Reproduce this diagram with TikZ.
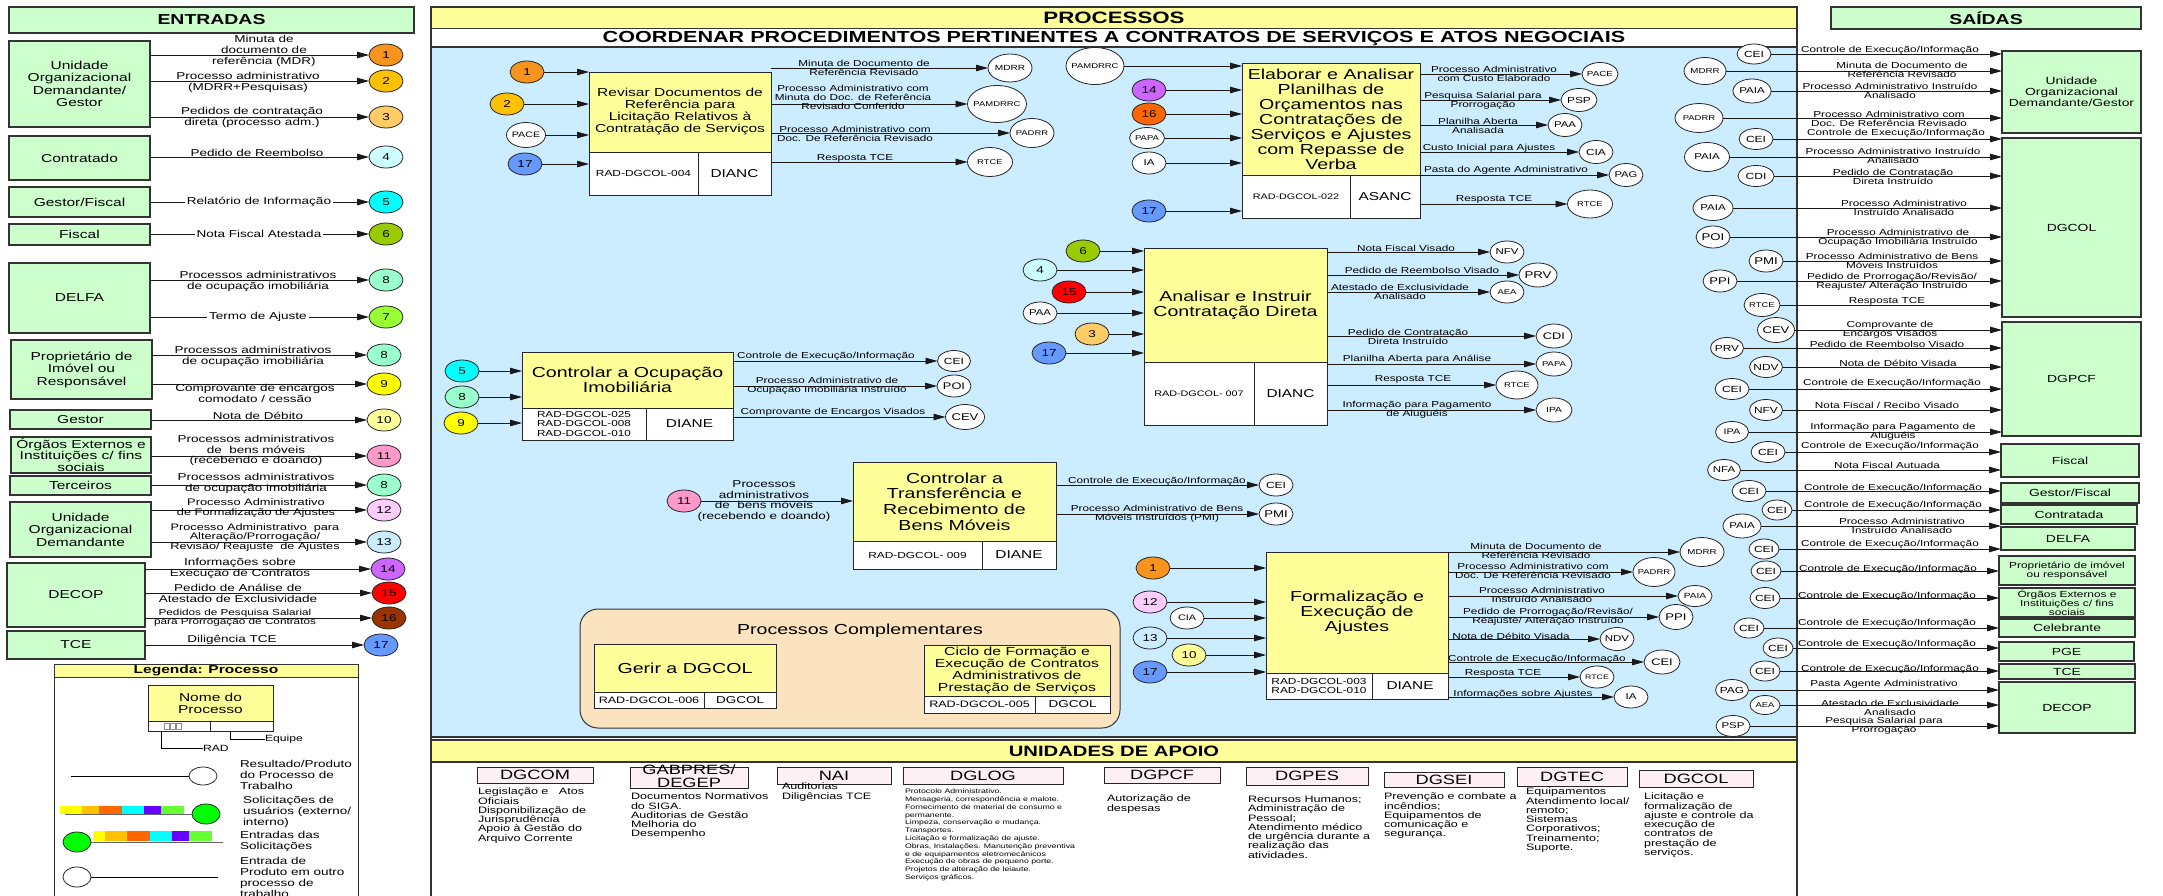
\documentclass[tikz,border=0pt]{standalone}
\usepackage{fontspec}
\setmainfont{Liberation Sans}[FakeStretch=1.35]
\usetikzlibrary{arrows.meta,shapes.geometric}
\definecolor{entgreen}{HTML}{CCFFCC}
\definecolor{procyel}{HTML}{FFFF99}
\definecolor{areablue}{HTML}{CCECFF}
\definecolor{unitpink}{HTML}{FFF0F5}
\definecolor{complbeige}{HTML}{FBE3BF}
\definecolor{cA}{HTML}{F7941D}
\definecolor{cB}{HTML}{FFC000}
\definecolor{cC}{HTML}{FFCC66}
\definecolor{cD}{HTML}{CCFFFF}
\definecolor{cE}{HTML}{00FFFF}
\definecolor{cF}{HTML}{99CC00}
\definecolor{cG}{HTML}{99FF33}
\definecolor{cH}{HTML}{99FFCC}
\definecolor{cI}{HTML}{FFFF00}
\definecolor{cJ}{HTML}{FFFF99}
\definecolor{cK}{HTML}{FF99CC}
\definecolor{cL}{HTML}{FFCCFF}
\definecolor{cM}{HTML}{CCECFF}
\definecolor{cN}{HTML}{CC66FF}
\definecolor{cO}{HTML}{FF0000}
\definecolor{cP}{HTML}{993300}
\definecolor{cPb}{HTML}{FF6600}
\definecolor{cQ}{HTML}{6699FF}
\definecolor{lgGreen}{HTML}{00FF00}
\definecolor{barPurple}{HTML}{6600FF}
\definecolor{barGreen}{HTML}{66FF33}
\definecolor{lineGray}{HTML}{333333}
\newcommand\fsz[2]{\fontsize{#1}{#2}\selectfont}
\newcommand\mb[1]{\makebox[0pt]{#1}}
\tikzset{
 every node/.style={inner sep=0pt, outer sep=0pt},
 entbox/.style={draw=lineGray, line width=1.3pt, fill=entgreen, align=center, anchor=north west, font=\fsz{11.5}{12.5}},
 sbox/.style={draw=lineGray, line width=1.3pt, fill=entgreen, align=center, anchor=north west, font=\fsz{10.3}{11}},
 circ/.style={ellipse, draw=black!85, line width=0.8pt, minimum width=34pt, minimum height=22pt, font=\fsz{10}{10}},
 lbl/.style={align=center, font=\fsz{8.7}{9}},
 elbl/.style={align=center, font=\fsz{10}{11}},
 arr/.style={line width=0.8pt, draw=black!90, -{Triangle[length=12pt,width=6.5pt]}},
 pyel/.style={draw=black!85, line width=0.9pt, fill=procyel, align=center, anchor=north west},
 pwh/.style={draw=black!85, line width=0.9pt, fill=white, align=center, anchor=north west},
 unit/.style={draw=black!85, line width=1pt, fill=unitpink, anchor=north west, font=\fsz{13.5}{13.5}},
 udesc/.style={align=left, anchor=north west, font=\fsz{9.3}{9.3}},
}
\newcommand\ccirc[4]{\node[circ, fill=#3] (#1) at (#2) {\mb{#4}};}
\newcommand\rcirc[6]{\node[circ, fill=white, minimum width=#3, minimum height=#4, font=\fsz{#5}{#5}] (#1) at (#2) {\mb{#6}};}
\newcommand\procbox[7]{\node[pyel, minimum width={#4-#2}, minimum height={#5-#3}, #6] (#1) at (#2,#3) {#7};}
\newcommand\procfoot[9]{%
 \node[pwh, minimum width={#3-#2}, minimum height={#6-#5}, #7] (#1r) at (#2,#5) {#8};
 \node[pwh, minimum width={#4-#3}, minimum height={#6-#5}, font=\fsz{11.4}{11.4}] (#1t) at (#3,#5) {#9};}
\begin{document}
\begin{tikzpicture}[x=1pt,y=-1pt]
\useasboundingbox (0,0) rectangle (2163,896);
\fill[white] (0,0) rectangle (2163,896);

% ================= ENTRADAS =================
\node[entbox, minimum width=405, minimum height=26, font=\bfseries\fsz{14.4}{15}] (hent) at (9,7) {ENTRADAS};
\node[entbox, minimum width=141, minimum height=86] (eUOD) at (9,41) {Unidade\\Organizacional\\Demandante/\\Gestor};
\node[entbox, minimum width=141, minimum height=44] (eCon) at (9,136) {Contratado};
\node[entbox, minimum width=141, minimum height=30] (eGF) at (9,187) {Gestor/Fiscal};
\node[entbox, minimum width=141, minimum height=21] (eFis) at (9,224) {Fiscal};
\node[entbox, minimum width=141, minimum height=70] (eDel) at (9,263) {DELFA};
\node[entbox, minimum width=141, minimum height=59] (ePro) at (11,340) {Proprietário de\\Imóvel ou\\Responsável};
\node[entbox, minimum width=141, minimum height=19] (eGes) at (10,410) {Gestor};
\node[entbox, minimum width=140, minimum height=36, font=\fsz{11.5}{11.8}] (eOrg) at (11,437) {Órgãos Externos e\\Instituições c/ fins\\sociais};
\node[entbox, minimum width=141, minimum height=19] (eTer) at (10,476) {Terceiros};
\node[entbox, minimum width=141, minimum height=55] (eUO2) at (10,502) {Unidade\\Organizacional\\Demandante};
\node[entbox, minimum width=138, minimum height=64] (eDec) at (7,563) {DECOP};
\node[entbox, minimum width=138, minimum height=28] (eTce) at (7,631) {TCE};

\ccirc{a1}{386,55}{cA}{1}
\ccirc{a2}{386,81}{cB}{2}
\ccirc{a3}{386,117}{cC}{3}
\ccirc{a4}{386,157}{cD}{4}
\ccirc{a5}{386,202}{cE}{5}
\ccirc{a6}{386,234}{cF}{6}
\ccirc{a8a}{386,280}{cH}{8}
\ccirc{a7}{386,317}{cG}{7}
\ccirc{a8b}{384,355}{cH}{8}
\ccirc{a9}{384,384}{cI}{9}
\ccirc{a10}{384,420}{cJ}{10}
\ccirc{a11}{384,456}{cK}{11}
\ccirc{a8c}{384,485}{cH}{8}
\ccirc{a12}{384,510}{cL}{12}
\ccirc{a13}{384,542}{cM}{13}
\ccirc{a14}{388,569}{cN}{14}
\ccirc{a15}{389,593}{cO}{15}
\ccirc{a16}{389,618}{cP}{16}
\ccirc{a17}{381,645}{cQ}{17}

\draw[arr] (eUOD.east |- a1) -- (a1);
\draw[arr] (eUOD.east |- a2) -- (a2);
\draw[arr] (eUOD.east |- a3) -- (a3);
\draw[arr] (eCon.east |- a4) -- (a4);
\draw[arr] (eGF.east |- a5) -- (a5);
\draw[arr] (eFis.east |- a6) -- (a6);
\draw[arr] (eDel.east |- a8a) -- (a8a);
\draw[arr] (eDel.east |- a7) -- (a7);
\draw[arr] (ePro.east |- a8b) -- (a8b);
\draw[arr] (ePro.east |- a9) -- (a9);
\draw[arr] (eGes.east |- a10) -- (a10);
\draw[arr] (eOrg.east |- a11) -- (a11);
\draw[arr] (eTer.east |- a8c) -- (a8c);
\draw[arr] (eUO2.east |- a12) -- (a12);
\draw[arr] (eUO2.east |- a13) -- (a13);
\draw[arr] (eDec.east |- a14) -- (a14);
\draw[arr] (eDec.east |- a15) -- (a15);
\draw[arr] (eDec.east |- a16) -- (a16);
\draw[arr] (eTce.east |- a17) -- (a17);

\node[elbl] (la1) at (264,50.5) {Minuta de\\documento de\\referência (MDR)};
\node[elbl] (la2) at (248,82.5) {Processo administrativo\\(MDRR+Pesquisas)};
\node[elbl] (la3) at (252,117.5) {Pedidos de contratação\\direta (processo adm.)};
\node[elbl] (la4) at (257,153) {Pedido de Reembolso};
\node[elbl, fill=white, inner xsep=2pt] (la5) at (259,202) {Relatório de Informação};
\node[elbl, fill=white, inner xsep=2pt] (la6) at (259,234) {Nota Fiscal Atestada};
\node[elbl] (la8a) at (258,281) {Processos administrativos\\de ocupação imobiliária};
\node[elbl, fill=white, inner xsep=2pt] (la7) at (258,317) {Termo de Ajuste};
\node[elbl] (la8b) at (253,356) {Processos administrativos\\de ocupação imobiliária};
\node[elbl] (la9) at (255,393.5) {Comprovante de encargos\\comodato / cessão};
\node[elbl] (la10) at (258,416) {Nota de Débito};
\node[elbl, font=\fsz{10}{10.5}] (la11) at (256,450.5) {Processos administrativos\\de \ bens móveis\\(recebendo e doando)};
\node[elbl] (la8c) at (256,483.5) {Processos administrativos\\de ocupação imobiliária};
\node[elbl, font=\fsz{9.5}{10}] (la12) at (256,508) {Processo Administrativo\\de Formalização de Ajustes};
\node[elbl, font=\fsz{9.4}{9.6}] (la13) at (255,537.5) {Processo Administrativo \ para\\Alteração/Prorrogação/\\Revisão/ Reajuste \ de Ajustes};
\node[elbl] (la14) at (240,568.5) {Informações sobre\\Execução de Contratos};
\node[elbl] (la15) at (238,593.5) {Pedido de Análise de\\Atestado de Exclusividade};
\node[elbl, font=\fsz{8.7}{9}] (la16) at (235,617.5) {Pedidos de Pesquisa Salarial\\para Prorrogação de Contratos};
\node[elbl] (la17) at (232,640) {Diligência TCE};

% ================= LEGENDA =================
\node[draw=lineGray, line width=1pt, fill=white, minimum width=304, minimum height=240, anchor=north west] (leg) at (54,664) {};
\node[draw=lineGray, line width=1pt, fill=procyel, minimum width=304, minimum height=13, anchor=north west, font=\bfseries\fsz{11.5}{11.5}] (legH) at (54,664) {Legenda: Processo};
\node[pyel, minimum width=125, minimum height=36, font=\fsz{11.5}{12}] (legP) at (148,685) {Nome do\\Processo};
\node[pwh, minimum width=62, minimum height=10] (legPr) at (148,721) {};
\node[pwh, minimum width=63, minimum height=10] (legPt) at (210,721) {};
\foreach \i in {0,1,2} \draw[black!45, line width=0.4pt] ({164+\i*6},723) rectangle ({169+\i*6},729);
\node[anchor=west, font=\fsz{9}{9}] (legRAD) at (203,748) {RAD};
\node[anchor=west, font=\fsz{9}{9}] (legEq) at (265,739) {Equipe};
\draw[line width=0.8pt] ([xshift=13pt]legPr.south west) |- (legRAD.west);
\draw[line width=0.8pt] ([xshift=20pt]legPt.south west) |- (legEq.west);
% row 1
\node[circ, fill=white, minimum width=28, minimum height=18] (legC1) at (203,776) {};
\coordinate (legL1) at (71,776);
\draw[line width=0.8pt] (legL1) -- (legC1);
\node[anchor=west, align=left, font=\fsz{10}{11}] (legT1) at (240,775) {Resultado/Produto\\do Processo de\\Trabalho};
% row 2
\fill[cI] (60,806) rectangle (82,814);
\fill[cB] (82,806) rectangle (99,814);
\fill[cPb] (99,806) rectangle (122,814);
\fill[cE] (122,806) rectangle (144,814);
\fill[barPurple] (144,806) rectangle (161,814);
\fill[barGreen] (161,806) rectangle (184,814);
\node[circ, fill=lgGreen, minimum width=28, minimum height=20] (legC2) at (206,814) {};
\coordinate (legL2) at (65,814);
\draw[line width=0.8pt, black!60] (legL2) -- (legC2);
\node[anchor=west, align=left, font=\fsz{10}{11}] (legT2) at (243,811.5) {Solicitações de\\usuários (externo/\\interno)};
% row 3
\fill[cI] (93,831) rectangle (105,841);
\fill[cB] (105,831) rectangle (127,841);
\fill[cPb] (127,831) rectangle (150,841);
\fill[cE] (150,831) rectangle (172,841);
\fill[barPurple] (172,831) rectangle (189,841);
\fill[barGreen] (189,831) rectangle (212,841);
\node[circ, fill=lgGreen, minimum width=28, minimum height=20] (legC3) at (77,842) {};
\coordinate (legL3) at (223,842);
\draw[line width=0.8pt, black!60] (legC3) -- (legL3);
\node[anchor=west, align=left, font=\fsz{10}{11}] (legT3) at (240,841.5) {Entradas das\\Solicitações};
% row 4
\node[circ, fill=white, minimum width=28, minimum height=20] (legC4) at (77,877) {};
\coordinate (legL4) at (218,877);
\draw[line width=0.8pt] (legC4) -- (legL4);
\node[anchor=west, align=left, font=\fsz{10}{11}] (legT4) at (240,877) {Entrada de\\Produto em outro\\processo de\\trabalho};

% ================= PROCESSOS =================
\draw[fill=white, draw=lineGray, line width=1.5pt] (431,7) rectangle (1797,905);
\draw[fill=procyel, draw=lineGray, line width=1pt] (431,7) rectangle (1797,29);
\node[font=\bfseries\fsz{16.5}{16.5}] (tProc) at (1114,18) {PROCESSOS};
\draw[fill=white, draw=lineGray, line width=1pt] (431,29) rectangle (1797,47);
\node[font=\bfseries\fsz{16}{16}] (tCoord) at (1114,38.5) {COORDENAR PROCEDIMENTOS PERTINENTES A CONTRATOS DE SERVIÇOS E ATOS NEGOCIAIS};
\draw[fill=areablue, draw=lineGray, line width=1.2pt] (431,47) rectangle (1797,737);
\draw[fill=procyel, draw=lineGray, line width=1.2pt] (431,740) rectangle (1797,762);
\node[font=\bfseries\fsz{15}{15}] (tApoio) at (1114,751) {UNIDADES DE APOIO};
\draw[line width=1.5pt, draw=lineGray] (431,7) rectangle (1797,905);

% ---- P1
\procbox{P1}{589}{72}{771}{152}{font=\fsz{11.5}{12}}{Revisar Documentos de\\Referência para\\Licitação Relativos à\\Contratação de Serviços}
\procfoot{P1}{589}{698}{771}{152}{195}{font=\fsz{8.8}{9}}{RAD-DGCOL-004}{DIANC}
\ccirc{p1i1}{527,72}{cA}{1}
\ccirc{p1i2}{507,104}{cB}{2}
\rcirc{p1i3}{526,135}{39}{25}{7.9}{PACE}
\ccirc{p1i4}{525,164}{cQ}{17}
\draw[arr] (p1i1) -- (p1i1 -| P1.west);
\draw[arr] (p1i2) -- (p1i2 -| P1.west);
\draw[arr] (p1i3) -- (p1i3 -| P1.west);
\draw[arr] (p1i4) -- (p1i4 -| P1.west);
\rcirc{p1o1}{1010,68}{44}{28}{7.5}{MDRR}
\rcirc{p1o2}{997,104}{59}{37}{7}{PAMDRRC}
\rcirc{p1o3}{1032,133}{44}{29}{7}{PADRR}
\rcirc{p1o4}{990,162}{45}{29}{7}{RTCE}
\draw[arr] (P1.east |- p1o1) -- (p1o1);
\draw[arr] (P1.east |- p1o2) -- (p1o2);
\draw[arr] (P1.east |- p1o3) -- (p1o3);
\draw[arr] (P1.east |- p1o4) -- (p1o4);
\node[lbl] (p1l1) at (864,67.5) {Minuta de Documento de\\Referência Revisado};
\node[lbl] (p1l2) at (853,97) {Processo Administrativo com\\Minuta do Doc. de Referência\\Revisado Conferido};
\node[lbl] (p1l3) at (855,133.5) {Processo Administrativo com\\Doc. De Referência Revisado};
\node[lbl] (p1l4) at (855,158) {Resposta TCE};

% ---- P2
\procbox{P2}{1242}{63}{1420}{175}{font=\fsz{14.5}{15}}{Elaborar e Analisar\\Planilhas de\\Orçamentos nas\\Contratações de\\Serviços e Ajustes\\com Repasse de\\Verba}
\procfoot{P2}{1242}{1350}{1420}{175}{218}{font=\fsz{8}{8}}{RAD-DGCOL-022}{ASANC}
\rcirc{p2i1}{1095,66}{58}{37}{7}{PAMDRRC}
\ccirc{p2i2}{1149,90}{cN}{14}
\ccirc{p2i3}{1149,114}{cPb}{16}
\rcirc{p2i4}{1147,138}{35}{21}{7}{PAPA}
\rcirc{p2i5}{1149,163}{34}{22}{8.5}{IA}
\ccirc{p2i6}{1149,211}{cQ}{17}
\draw[arr] (p2i1) -- (p2i1 -| P2.west);
\draw[arr] (p2i2) -- (p2i2 -| P2.west);
\draw[arr] (p2i3) -- (p2i3 -| P2.west);
\draw[arr] (p2i4) -- (p2i4 -| P2.west);
\draw[arr] (p2i5) -- (p2i5 -| P2.west);
\draw[arr] (p2i6) -- (p2i6 -| P2.west);
\rcirc{p2o1}{1600,74}{36}{23}{7.3}{PACE}
\rcirc{p2o2}{1579,100}{36}{23}{8.8}{PSP}
\rcirc{p2o3}{1565,125}{34}{23}{8.4}{PAA}
\rcirc{p2o4}{1596,152}{34}{23}{8.8}{CIA}
\rcirc{p2o5}{1626,175}{34}{23}{8.3}{PAG}
\rcirc{p2o6}{1590,204}{45}{28}{7}{RTCE}
\draw[arr] (P2.east |- p2o1) -- (p2o1);
\draw[arr] (P2.east |- p2o2) -- (p2o2);
\draw[arr] (P2.east |- p2o3) -- (p2o3);
\draw[arr] (P2.east |- p2o4) -- (p2o4);
\draw[arr] (P2.east |- p2o5) -- (p2o5);
\draw[arr] (P2.east |- p2o6) -- (p2o6);
\node[lbl] (p2l1) at (1494,73.5) {Processo Administrativo\\com Custo Elaborado};
\node[lbl] (p2l2) at (1483,100.5) {Pesquisa Salarial para\\Prorrogação};
\node[lbl] (p2l3) at (1478,125.5) {Planilha Aberta\\Analisada};
\node[lbl] (p2l4) at (1489,148) {Custo Inicial para Ajustes};
\node[lbl] (p2l5) at (1506,170) {Pasta do Agente Administrativo};
\node[lbl] (p2l6) at (1494,199) {Resposta TCE};

% ---- P3
\procbox{P3}{1144}{248}{1327}{362}{font=\fsz{14.5}{15}}{Analisar e Instruir\\Contratação Direta}
\procfoot{P3}{1144}{1254}{1327}{362}{425}{font=\fsz{8}{8}}{RAD-DGCOL- 007}{DIANC}
\ccirc{p3i1}{1083,251}{cF}{6}
\ccirc{p3i2}{1040,270}{cD}{4}
\ccirc{p3i3}{1069,292}{cO}{15}
\rcirc{p3i4}{1040,313}{34}{22}{8.4}{PAA}
\ccirc{p3i5}{1092,334}{cC}{3}
\ccirc{p3i6}{1049,353}{cQ}{17}
\draw[arr] (p3i1) -- (p3i1 -| P3.west);
\draw[arr] (p3i2) -- (p3i2 -| P3.west);
\draw[arr] (p3i3) -- (p3i3 -| P3.west);
\draw[arr] (p3i4) -- (p3i4 -| P3.west);
\draw[arr] (p3i5) -- (p3i5 -| P3.west);
\draw[arr] (p3i6) -- (p3i6 -| P3.west);
\rcirc{p3o1}{1507,252}{34}{22}{8.5}{NFV}
\rcirc{p3o2}{1538,275}{38}{24}{9.8}{PRV}
\rcirc{p3o3}{1507,292}{34}{22}{7}{AEA}
\rcirc{p3o4}{1554,336}{36}{24}{9.5}{CDI}
\rcirc{p3o5}{1554,364}{36}{24}{7}{PAPA}
\rcirc{p3o6}{1517,385}{42}{28}{7}{RTCE}
\rcirc{p3o7}{1554,410}{36}{24}{7.5}{IPA}
\draw[arr] (P3.east |- p3o1) -- (p3o1);
\draw[arr] (P3.east |- p3o2) -- (p3o2);
\draw[arr] (P3.east |- p3o3) -- (p3o3);
\draw[arr] (P3.east |- p3o4) -- (p3o4);
\draw[arr] (P3.east |- p3o5) -- (p3o5);
\draw[arr] (P3.east |- p3o6) -- (p3o6);
\draw[arr] (P3.east |- p3o7) -- (p3o7);
\node[lbl] (p3l1) at (1406,248) {Nota Fiscal Visado};
\node[lbl] (p3l2) at (1422,270) {Pedido de Reembolso Visado};
\node[lbl] (p3l3) at (1400,291.5) {Atestado de Exclusividade\\Analisado};
\node[lbl] (p3l4) at (1408,336.5) {Pedido de Contratação\\Direta Instruído};
\node[lbl] (p3l5) at (1417,359) {Planilha Aberta para Análise};
\node[lbl] (p3l6) at (1413,379) {Resposta TCE};
\node[lbl] (p3l7) at (1417,409.5) {Informação para Pagamento\\de Aluguéis};

% ---- P4
\procbox{P4}{522}{352}{733}{408}{font=\fsz{14.5}{15}}{Controlar a Ocupação\\Imobiliária}
\procfoot{P4}{522}{646}{733}{408}{440}{font=\fsz{8.7}{9.5}}{RAD-DGCOL-025\\RAD-DGCOL-008\\RAD-DGCOL-010}{DIANE}
\ccirc{p4i1}{462,371}{cE}{5}
\ccirc{p4i2}{462,397}{cH}{8}
\ccirc{p4i3}{461,423}{cI}{9}
\draw[arr] (p4i1) -- (p4i1 -| P4.west);
\draw[arr] (p4i2) -- (p4i2 -| P4.west);
\draw[arr] (p4i3) -- (p4i3 -| P4.west);
\rcirc{p4o1}{954,361}{33}{21}{8.9}{CEI}
\rcirc{p4o2}{954,386}{34}{22}{9.5}{POI}
\rcirc{p4o3}{965,417}{39}{25}{9.7}{CEV}
\draw[arr] (P4.east |- p4o1) -- (p4o1);
\draw[arr] (P4.east |- p4o2) -- (p4o2);
\draw[arr] (P4.east |- p4o3) -- (p4o3);
\node[lbl] (p4l1) at (826,356) {Controle de Execução/Informação};
\node[lbl] (p4l2) at (827,385.5) {Processo Administrativo de\\Ocupação Imobiliária Instruído};
\node[lbl] (p4l3) at (833,412) {Comprovante de Encargos Visados};

% ---- P5
\procbox{P5}{853}{462}{1056}{541}{font=\fsz{14.5}{15.6}}{Controlar a\\Transferência e\\Recebimento de\\Bens Móveis}
\procfoot{P5}{853}{982}{1056}{541}{569}{font=\fsz{8.8}{9}}{RAD-DGCOL- 009}{DIANE}
\ccirc{p5i1}{684,501}{cK}{11}
\draw[arr] (p5i1) -- (p5i1 -| P5.west);
\node[align=center, font=\fsz{10}{10.7}] (p5l0) at (764,501) {Processos\\administrativos\\de \ bens móveis\\(recebendo e doando)};
\rcirc{p5o1}{1276,485}{34}{22}{8.9}{CEI}
\rcirc{p5o2}{1276,514}{34}{22}{9.8}{PMI}
\draw[arr] (P5.east |- p5o1) -- (p5o1);
\draw[arr] (P5.east |- p5o2) -- (p5o2);
\node[lbl] (p5l1) at (1157,481) {Controle de Execução/Informação};
\node[lbl] (p5l2) at (1157,513.5) {Processo Administrativo de Bens\\Móveis Instruídos (PMI)};

% ---- P6
\procbox{P6}{1266}{552}{1448}{673}{font=\fsz{14.5}{15}}{Formalização e\\Execução de\\Ajustes}
\procfoot{P6}{1266}{1372}{1448}{673}{699}{font=\fsz{8.8}{9}}{RAD-DGCOL-003\\RAD-DGCOL-010}{DIANE}
\ccirc{p6i1}{1153,568}{cA}{1}
\ccirc{p6i2}{1150,602}{cL}{12}
\rcirc{p6i3}{1187,618}{34}{22}{8}{CIA}
\ccirc{p6i4}{1150,638}{cM}{13}
\ccirc{p6i5}{1189,655}{cJ}{10}
\ccirc{p6i6}{1150,672}{cQ}{17}
\draw[arr] (p6i1) -- (p6i1 -| P6.west);
\draw[arr] (p6i2) -- (p6i2 -| P6.west);
\draw[arr] (p6i3) -- (p6i3 -| P6.west);
\draw[arr] (p6i4) -- (p6i4 -| P6.west);
\draw[arr] (p6i5) -- (p6i5 -| P6.west);
\draw[arr] (p6i6) -- (p6i6 -| P6.west);
\rcirc{p6o1}{1702,552}{44}{29}{7.2}{MDRR}
\rcirc{p6o2}{1654,572}{42}{29}{7}{PADRR}
\rcirc{p6o3}{1695,596}{34}{21}{7.5}{PAIA}
\rcirc{p6o4}{1676,617}{34}{25}{9.7}{PPI}
\rcirc{p6o5}{1617,639}{34}{23}{8.5}{NDV}
\rcirc{p6o6}{1662,662}{36}{24}{9.5}{CEI}
\rcirc{p6o7}{1597,677}{34}{22}{6.5}{RTCE}
\rcirc{p6o8}{1631,697}{34}{22}{8.5}{IA}
\draw[arr] (P6.east |- p6o1) -- (p6o1);
\draw[arr] (P6.east |- p6o2) -- (p6o2);
\draw[arr] (P6.east |- p6o3) -- (p6o3);
\draw[arr] (P6.east |- p6o4) -- (p6o4);
\draw[arr] (P6.east |- p6o5) -- (p6o5);
\draw[arr] (P6.east |- p6o6) -- (p6o6);
\draw[arr] (P6.east |- p6o7) -- (p6o7);
\draw[arr] (P6.east |- p6o8) -- (p6o8);
\node[lbl] (p6l1) at (1536,551) {Minuta de Documento de\\Referência Revisado};
\node[lbl] (p6l2) at (1533,570.5) {Processo Administrativo com\\Doc. De Referência Revisado};
\node[lbl] (p6l3) at (1542,594.5) {Processo Administrativo\\Instruído Analisado};
\node[lbl] (p6l4) at (1548,617) {Pedido de Prorrogação/Revisão/\\Reajuste/ Alteração Instruído};
\node[lbl] (p6l5) at (1511,636) {Nota de Débito Visada};
\node[lbl] (p6l6) at (1537,659) {Controle de Execução/Informação};
\node[lbl] (p6l7) at (1503,673) {Resposta TCE};
\node[lbl] (p6l8) at (1523,694) {Informações sobre Ajustes};

% ---- Processos complementares
\node[draw=lineGray, line width=1pt, fill=complbeige, rounded corners=18pt, minimum width=540, minimum height=119, anchor=north west] (compl) at (580,609) {};
\node[font=\fsz{14.5}{15}] (complT) at (860,631) {Processos Complementares};
\procbox{PG}{594}{644}{776}{692}{font=\fsz{14.5}{15}}{Gerir a DGCOL}
\procfoot{PG}{594}{704}{776}{692}{708}{font=\fsz{9.3}{9.3}}{RAD-DGCOL-006}{\fsz{10}{10}DGCOL}
\procbox{PC}{924}{645}{1110}{696}{font=\fsz{11.7}{11.7}}{Ciclo de Formação e\\Execução de Contratos\\Administrativos de\\Prestação de Serviços}
\procfoot{PC}{924}{1035}{1110}{696}{713}{font=\fsz{9.3}{9.3}}{RAD-DGCOL-005}{\fsz{10}{10}DGCOL}

% ================= UNIDADES DE APOIO =================
\node[unit, minimum width=116, minimum height=16] (uDGCOM) at (477,767) {DGCOM};
\node[unit, minimum width=118, minimum height=21] (uGAB) at (630,767) {};
\node[align=center, font=\fsz{13.5}{13}] (uGABt) at (689,776) {GABPRES/\\DEGEP};
\node[unit, minimum width=114, minimum height=17] (uNAI) at (777,767) {NAI};
\node[unit, minimum width=160, minimum height=17] (uDGLOG) at (903,767) {DGLOG};
\node[unit, minimum width=116, minimum height=16] (uDGPCF) at (1104,767) {DGPCF};
\node[unit, minimum width=122, minimum height=18] (uDGPES) at (1246,767) {DGPES};
\node[unit, minimum width=120, minimum height=15] (uDGSEI) at (1384,772) {DGSEI};
\node[unit, minimum width=110, minimum height=19] (uDGTEC) at (1517,767) {DGTEC};
\node[unit, minimum width=114, minimum height=17] (uDGCOL) at (1639,770) {DGCOL};
\node[udesc] (dDGCOM) at (478,788) {Legislação e \ \ Atos\\Oficiais\\Disponibilização de\\Jurisprudência\\Apoio à Gestão do\\Arquivo Corrente};
\node[udesc] (dGAB) at (631,793) {Documentos Normativos\\do SIGA.\\Auditorias de Gestão\\Melhoria do\\Desempenho};
\node[udesc] (dNAI) at (782,783) {Auditorias\\Diligências TCE};
\node[udesc, font=\fsz{6.5}{7.8}] (dDGLOG) at (905,789) {Protocolo Administrativo.\\Mensageria, correspondência e malote.\\Fornecimento de material de consumo e\\permanente.\\Limpeza, conservação e mudança.\\Transportes.\\Licitação e formalização de ajuste.\\Obras, Instalações. Manutenção preventiva\\e de equipamentos eletromecânicos\\Execução de obras de pequeno porte.\\Projetos de alteração de leiaute.\\Serviços gráficos.};
\node[udesc] (dDGPCF) at (1107,795) {Autorização de\\despesas};
\node[udesc] (dDGPES) at (1248,796) {Recursos Humanos;\\Administração de\\Pessoal;\\Atendimento médico\\de urgência durante a\\realização das\\atividades.};
\node[udesc] (dDGSEI) at (1384,793) {Prevenção e combate a\\incêndios;\\Equipamentos de\\comunicação e\\segurança.};
\node[udesc] (dDGTEC) at (1526,788) {Equipamentos\\Atendimento local/\\remoto;\\Sistemas\\Corporativos;\\Treinamento;\\Suporte.};
\node[udesc] (dDGCOL) at (1644,793) {Licitação e\\formalização de\\ajuste e controle da\\execução de\\contratos de\\prestação de\\serviços.};

% ================= SAIDAS =================
\node[sbox, minimum width=310, minimum height=22, font=\bfseries\fsz{14.4}{15}] (hsai) at (1831,7) {SAÍDAS};
\node[sbox, minimum width=139, minimum height=82] (sUOD) at (2002,51) {Unidade\\Organizacional\\Demandante/Gestor};
\node[sbox, minimum width=139, minimum height=179] (sDGCOL) at (2002,138) {DGCOL};
\node[sbox, minimum width=139, minimum height=114] (sDGPCF) at (2002,322) {DGPCF};
\node[sbox, minimum width=138, minimum height=33] (sFis) at (2001,444) {Fiscal};
\node[sbox, minimum width=138, minimum height=20] (sGF) at (2001,483) {Gestor/Fiscal};
\node[sbox, minimum width=136, minimum height=19] (sCon) at (2001,505) {Contratada};
\node[sbox, minimum width=134, minimum height=23] (sDel) at (2001,527) {DELFA};
\node[sbox, minimum width=136, minimum height=29, font=\fsz{8.8}{9}] (sPro) at (1999,556) {Proprietário de imóvel\\ou responsável};
\node[sbox, minimum width=136, minimum height=29, font=\fsz{8.8}{9}] (sOrg) at (1999,588) {Órgãos Externos e\\Instituições c/ fins\\sociais};
\node[sbox, minimum width=136, minimum height=18] (sCel) at (1999,619) {Celebrante};
\node[sbox, minimum width=135, minimum height=19] (sPGE) at (1999,642) {PGE};
\node[sbox, minimum width=136, minimum height=15] (sTce) at (1999,664) {TCE};
\node[sbox, minimum width=136, minimum height=51] (sDec) at (1999,682) {DECOP};

\rcirc{r1}{1754,54}{34}{20}{8.9}{CEI}
\rcirc{r2}{1705,71}{42}{27}{7.2}{MDRR}
\rcirc{r3}{1752,91}{38}{24}{8.5}{PAIA}
\rcirc{r4}{1699,118}{48}{29}{7}{PADRR}
\rcirc{r5}{1756,139}{34}{21}{8.9}{CEI}
\rcirc{r6}{1707,157}{45}{29}{8.5}{PAIA}
\rcirc{r7}{1756,176}{36}{21}{8.9}{CDI}
\rcirc{r8}{1713,208}{40}{25}{8.5}{PAIA}
\rcirc{r9}{1713,237}{34}{22}{9.8}{POI}
\rcirc{r10}{1766,261}{34}{22}{9.8}{PMI}
\rcirc{r11}{1720,281}{34}{22}{9.7}{PPI}
\rcirc{r12}{1762,305}{36}{23}{7}{RTCE}
\rcirc{r13}{1776,330}{37}{25}{9.7}{CEV}
\rcirc{r14}{1727,348}{33}{21}{8.8}{PRV}
\rcirc{r15}{1766,367}{33}{21}{8.8}{NDV}
\rcirc{r16}{1732,389}{34}{21}{8.9}{CEI}
\rcirc{r17}{1766,410}{33}{21}{8.8}{NFV}
\rcirc{r18}{1732,432}{33}{21}{8}{IPA}
\rcirc{r19}{1768,452}{34}{21}{8.9}{CEI}
\rcirc{r20}{1724,470}{33}{21}{8.5}{NFA}
\rcirc{r21}{1749,491}{34}{21}{8.9}{CEI}
\rcirc{r22}{1777,510}{30}{20}{8.9}{CEI}
\rcirc{r23}{1742,526}{38}{24}{8.5}{PAIA}
\rcirc{r24}{1764,549}{30}{20}{8.9}{CEI}
\rcirc{r25}{1766,571}{30}{20}{8.9}{CEI}
\rcirc{r26}{1765,598}{30}{21}{8.9}{CEI}
\rcirc{r27}{1749,628}{30}{20}{8.9}{CEI}
\rcirc{r28}{1778,648}{30}{20}{8.9}{CEI}
\rcirc{r29}{1765,671}{30}{20}{8.9}{CEI}
\rcirc{r30}{1732,690}{33}{21}{8.8}{PAG}
\rcirc{r31}{1765,705}{30}{19}{7}{AEA}
\rcirc{r32}{1733,726}{34}{21}{8.5}{PSP}

\foreach \r/\b in {r1/sUOD,r2/sUOD,r3/sUOD,r4/sUOD,r5/sDGCOL,r6/sDGCOL,r7/sDGCOL,r8/sDGCOL,r9/sDGCOL,r10/sDGCOL,r11/sDGCOL,r12/sDGCOL,r13/sDGPCF,r14/sDGPCF,r15/sDGPCF,r16/sDGPCF,r17/sDGPCF,r18/sDGPCF,r19/sFis,r20/sFis,r21/sGF,r22/sCon,r23/sDel,r24/sDel,r25/sPro,r26/sOrg,r27/sCel,r28/sPGE,r29/sTce,r30/sDec,r31/sDec,r32/sDec}
  \draw[arr] (\r) -- (\r -| \b.west);

\node[lbl] (rl1) at (1890,50) {Controle de Execução/Informação};
\node[lbl] (rl2) at (1902,69.5) {Minuta de Documento de\\Referência Revisado};
\node[lbl] (rl3) at (1890,91) {Processo Administrativo Instruído\\Analisado};
\node[lbl] (rl4) at (1889,119) {Processo Administrativo com\\Doc. De Referência Revisado};
\node[lbl] (rl5) at (1896,133) {Controle de Execução/Informação};
\node[lbl] (rl6) at (1893,155.5) {Processo Administrativo Instruído\\Analisado};
\node[lbl] (rl7) at (1893,176.5) {Pedido de Contratação\\Direta Instruído};
\node[lbl] (rl8) at (1904,207.5) {Processo Administrativo\\Instruído Analisado};
\node[lbl] (rl9) at (1898,237.5) {Processo Administrativo de\\Ocupação Imobiliária Instruído};
\node[lbl] (rl10) at (1892,260.5) {Processo Administrativo de Bens\\Móveis Instruídos};
\node[lbl] (rl11) at (1892,281.5) {Pedido de Prorrogação/Revisão/\\Reajuste/ Alteração Instruído};
\node[lbl] (rl12) at (1887,301) {Resposta TCE};
\node[lbl] (rl13) at (1890,329.5) {Comprovante de\\Encargos Visados};
\node[lbl] (rl14) at (1887,344) {Pedido de Reembolso Visado};
\node[lbl] (rl15) at (1898,363) {Nota de Débito Visada};
\node[lbl] (rl16) at (1892,383) {Controle de Execução/Informação};
\node[lbl] (rl17) at (1887,405) {Nota Fiscal / Recibo Visado};
\node[lbl] (rl18) at (1893,432) {Informação para Pagamento de\\Aluguéis};
\node[lbl] (rl19) at (1890,446) {Controle de Execução/Informação};
\node[lbl] (rl20) at (1887,465) {Nota Fiscal Autuada};
\node[lbl] (rl21) at (1893,488) {Controle de Execução/Informação};
\node[lbl] (rl22) at (1893,505) {Controle de Execução/Informação};
\node[lbl] (rl23) at (1902,526) {Processo Administrativo\\Instruído Analisado};
\node[lbl] (rl24) at (1890,544) {Controle de Execução/Informação};
\node[lbl] (rl25) at (1888,569) {Controle de Execução/Informação};
\node[lbl] (rl26) at (1887,596) {Controle de Execução/Informação};
\node[lbl] (rl27) at (1887,623) {Controle de Execução/Informação};
\node[lbl] (rl28) at (1887,644) {Controle de Execução/Informação};
\node[lbl] (rl29) at (1890,669) {Controle de Execução/Informação};
\node[lbl] (rl30) at (1884,684) {Pasta Agente Administrativo};
\node[lbl] (rl31) at (1890,707.5) {Atestado de Exclusividade\\Analisado};
\node[lbl] (rl32) at (1884,725.5) {Pesquisa Salarial para\\Prorrogação};
\end{tikzpicture}
\end{document}
